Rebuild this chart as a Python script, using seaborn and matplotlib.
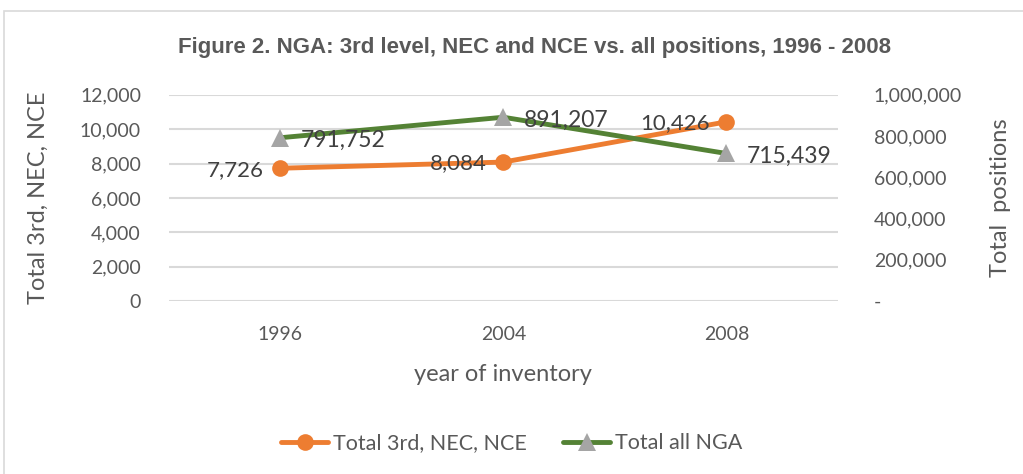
import matplotlib
matplotlib.use("Agg")
import matplotlib.pyplot as plt
import seaborn as sns
import pandas as pd
from matplotlib.patches import Rectangle
from matplotlib.lines import Line2D
from matplotlib.ticker import FuncFormatter

years = ["1996", "2004", "2008"]
third_nec_nce = [7726, 8084, 10426]
total_nga = [791752, 891207, 715439]

ORANGE = "#ED7D31"
GREEN = "#548235"
GRAY_MK = "#A5A5A5"
TXT = "#595959"

sns.set_style("white")
plt.rcParams["font.family"] = ["Lato", "DejaVu Sans"]

df = pd.DataFrame({"year": years, "third": third_nec_nce, "nga": total_nga})

fig = plt.figure(figsize=(10.23, 4.74), dpi=100)
ax = fig.add_axes([0.165, 0.365, 0.654, 0.435])
ax2 = ax.twinx()

sns.lineplot(data=df, x="year", y="third", ax=ax, color=ORANGE, lw=3.5,
             marker="o", markersize=12, markeredgewidth=0, zorder=3)
sns.lineplot(data=df, x="year", y="nga", ax=ax2, color=GREEN, lw=3.5,
             marker="^", markersize=13, markerfacecolor=GRAY_MK,
             markeredgecolor=GRAY_MK, markeredgewidth=0, zorder=3)

ax.set_xlim(-0.5, 2.5)
ax.set_ylim(0, 12000)
ax2.set_ylim(0, 1000000)
ax.set_yticks(range(0, 12001, 2000))
ax2.set_yticks(range(0, 1000001, 200000))
ax.yaxis.set_major_formatter(FuncFormatter(lambda v, p: f"{int(v):,}"))
ax2.yaxis.set_major_formatter(FuncFormatter(lambda v, p: "-" if v == 0 else f"{int(v):,}"))

ax.grid(axis="y", color="#D9D9D9", lw=1.5)
ax.set_axisbelow(True)
for a in (ax, ax2):
    for s in a.spines.values():
        s.set_visible(False)
    a.tick_params(length=0, labelsize=14, labelcolor=TXT)
ax.tick_params(axis="y", pad=20)
ax.tick_params(axis="x", pad=18)
ax2.tick_params(axis="y", pad=26)

ax.set_xlabel("year of inventory", fontsize=17, color=TXT, labelpad=15)
ax.set_ylabel("Total 3rd, NEC, NCE", fontsize=17, color=TXT, labelpad=22)
ax2.set_ylabel("Total  positions", fontsize=17, color=TXT, labelpad=20)

for i, v in enumerate(third_nec_nce):
    ax.annotate(f"{v:,}", (years[i], v), xytext=(-12, -1), textcoords="offset points",
                ha="right", va="center", fontsize=16, color="#404040")
for i, v in enumerate(total_nga):
    ax2.annotate(f"{v:,}", (years[i], v), xytext=(15, -2), textcoords="offset points",
                 ha="left", va="center", fontsize=16.5, color="#404040")

fig.text(0.522, 0.90, "Figure 2. NGA: 3rd level, NEC and NCE vs. all positions, 1996 - 2008",
         ha="center", va="center", fontsize=16, fontweight="bold", color=TXT,
         family=["Liberation Sans", "DejaVu Sans"])

handles = [
    Line2D([], [], color=ORANGE, lw=3.5, marker="o", markersize=12, markeredgewidth=0),
    Line2D([], [], color=GREEN, lw=3.5, marker="^", markersize=13,
           markerfacecolor=GRAY_MK, markeredgewidth=0),
]
fig.legend(handles, ["Total 3rd, NEC, NCE", "Total all NGA"], loc="center",
           bbox_to_anchor=(0.5, 0.065), ncol=2, frameon=False, fontsize=15.5,
           labelcolor=TXT, handlelength=2.2, handletextpad=0.2, columnspacing=1.7)

fig.add_artist(Rectangle((0.004, -0.05), 1.1, 1.026, transform=fig.transFigure,
                         fill=False, edgecolor="#D9D9D9", lw=1.2))

fig.savefig("out.png", dpi=100)
